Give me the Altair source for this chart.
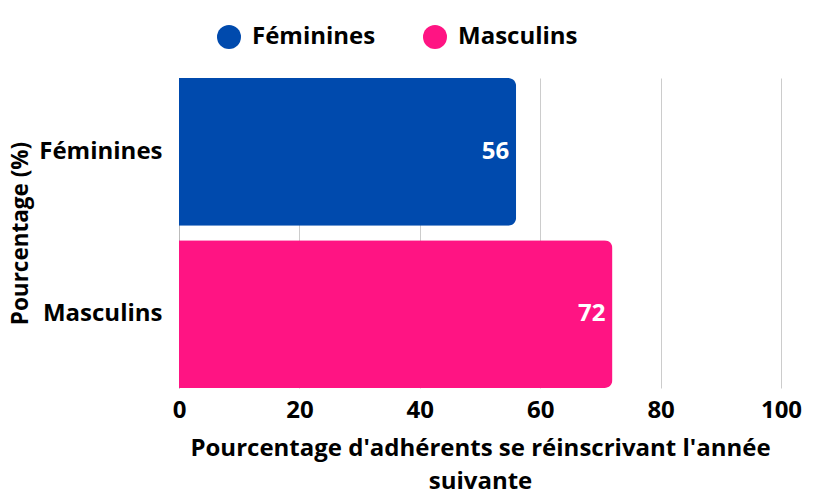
import altair as alt
import pandas as pd

categories = ["Féminines", "Masculins"]
values = [56, 72]
colors = ["#004AAD", "#FF1483"]

df = pd.DataFrame({"cat": categories, "val": values})

FONT = "Open Sans"
FS = 24

base = alt.Chart(df).encode(
    y=alt.Y("cat:N", sort=categories,
            scale=alt.Scale(paddingInner=0.09, paddingOuter=0.0),
            axis=alt.Axis(title="Pourcentage (%)", labelFontSize=FS, labelFont=FONT,
                          labelFontWeight="bold", labelColor="#000", ticks=False,
                          domain=True, domainColor="#bbbbbb", labelPadding=17,
                          titleFontSize=22.5, titleFont=FONT, titleFontWeight="bold",
                          titleColor="#000", titlePadding=6, grid=False)),
)

bars = base.mark_bar(cornerRadiusEnd=8).encode(
    x=alt.X("val:Q", scale=alt.Scale(domain=[0, 100]),
            axis=alt.Axis(values=[0, 20, 40, 60, 80, 100],
                          title=["Pourcentage d'adhérents se réinscrivant l'année", "suivante"],
                          labelFontSize=FS, labelFont=FONT, labelFontWeight="bold",
                          labelColor="#000", ticks=False, domain=False, labelPadding=10,
                          labelFlush=False,
                          titleFontSize=FS, titleFont=FONT, titleFontWeight="bold",
                          titleColor="#000", titlePadding=14, titleLineHeight=33,
                          grid=True, gridColor="#cccccc", gridWidth=1)),
    color=alt.Color("cat:N", sort=categories,
                    scale=alt.Scale(domain=categories, range=colors),
                    legend=alt.Legend(title=None, orient="none", direction="horizontal",
                                      legendX=38, legendY=-53, symbolType="circle",
                                      symbolSize=576, symbolStrokeWidth=0,
                                      labelFontSize=FS, labelFont=FONT,
                                      labelFontWeight="bold", labelColor="#000",
                                      labelOffset=11, columnPadding=47)),
)

text = base.mark_text(align="right", baseline="middle", dx=-7, color="white",
                      font=FONT, fontWeight="bold", fontSize=FS).encode(
    x=alt.X("val:Q"),
    text=alt.Text("val:Q"),
)

chart = (bars + text).properties(
    width=602, height=310,
    autosize=alt.AutoSizeParams(type="none"),
    padding={"left": 171, "top": 70, "right": 36, "bottom": 115},
).configure_view(stroke=None)

chart.save("out.html", embed_options={"renderer": "svg", "actions": False})
